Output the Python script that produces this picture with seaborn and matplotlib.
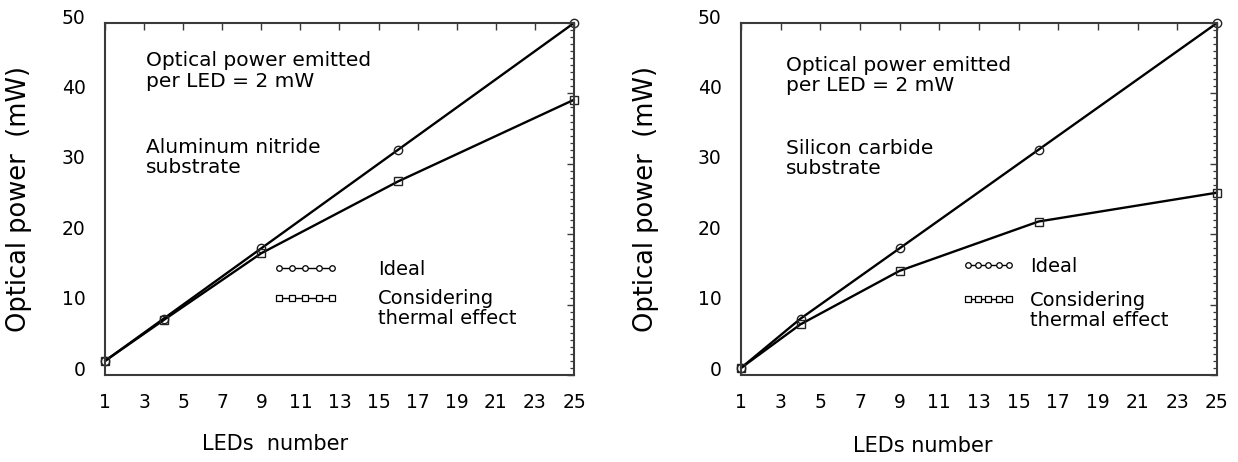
import matplotlib
matplotlib.use('Agg')
import matplotlib.pyplot as plt
import seaborn as sns
import pandas as pd
from matplotlib.lines import Line2D
from matplotlib.transforms import ScaledTranslation
from matplotlib.ticker import MultipleLocator, FixedLocator

# ---- data ----
leds = [1, 4, 9, 16, 25]
aln_ideal = [2, 8, 18, 32, 50]
aln_thermal = [2, 7.8, 17.3, 27.5, 39.1]
sic_ideal = [1, 8, 18, 32, 50]
sic_thermal = [1, 7.2, 14.8, 21.8, 25.9]
x_ticks = list(range(1, 26, 2))
y_ticks = [0, 10, 20, 30, 40, 50]
series = ['Ideal', 'Considering']

sns.set_style('white')
plt.rcParams['font.family'] = ['DejaVu Sans']
plt.rcParams['text.color'] = 'black'
plt.rcParams['axes.labelcolor'] = 'black'
plt.rcParams['xtick.color'] = 'black'
plt.rcParams['ytick.color'] = 'black'

W, H = 1238, 462
fig = plt.figure(figsize=(W / 100, H / 100), dpi=100)
ax1 = fig.add_axes([105 / W, 1 - 375 / H, 469 / W, 352 / H])
ax2 = fig.add_axes([741 / W, 1 - 375 / H, 476 / W, 352 / H])

LEG_FS = 14
panels = [
    dict(ax=ax1, ideal=aln_ideal, thermal=aln_thermal,
         note='Aluminum nitride\nsubstrate', note_y=0.618, head_x=0.087, head_y=0.864,
         ylabel_x=-0.155, xlabel='LEDs  number', xlabel_xy=(0.362, -0.168),
         leg_xy=(0.358, 0.2585), hl=3.35, htp=2.05, ls=0.56, te_xy=(0.582, 0.160)),
    dict(ax=ax2, ideal=sic_ideal, thermal=sic_thermal,
         note='Silicon carbide\nsubstrate', note_y=0.614, head_x=0.0945, head_y=0.851,
         ylabel_x=-0.172, xlabel='LEDs number', xlabel_xy=(0.382, -0.172),
         leg_xy=(0.464, 0.261), hl=2.73, htp=0.77, ls=0.77, te_xy=(0.607, 0.154)),
]

spine_col = '#3a3a3a'
for p in panels:
    ax = p['ax']
    df = pd.DataFrame({
        'LEDs': leds * 2,
        'power': p['ideal'] + p['thermal'],
        'series': [series[0]] * len(leds) + [series[1]] * len(leds),
    })
    sns.lineplot(data=df, x='LEDs', y='power', style='series',
                 markers={'Ideal': 'o', 'Considering': 's'}, dashes=False,
                 color='black', linewidth=1.7, markersize=6,
                 markerfacecolor='none', markeredgecolor='#222222',
                 markeredgewidth=1.0, legend=False, ax=ax)
    for ln in ax.lines:
        ln.set_clip_on(False)

    ax.set_xlim(1, 25)
    ax.set_ylim(0, 50)
    ax.xaxis.set_major_locator(FixedLocator(x_ticks))
    ax.yaxis.set_major_locator(FixedLocator(y_ticks))
    ax.yaxis.set_minor_locator(MultipleLocator(1))
    ax.tick_params(axis='both', which='both', direction='in', top=True, right=True,
                   color=spine_col)
    ax.tick_params(axis='both', which='major', length=5, width=1.0, labelsize=13.5)
    ax.tick_params(axis='y', which='minor', length=3, width=0.9)
    ax.tick_params(axis='x', which='major', pad=13)
    ax.tick_params(axis='y', which='major', pad=14)
    for lab in ax.get_yticklabels():
        lab.set_transform(lab.get_transform() + ScaledTranslation(0, 5 / 72, fig.dpi_scale_trans))
    for s in ax.spines.values():
        s.set_color(spine_col)
        s.set_linewidth(1.5)

    ax.set_ylabel('Optical power  (mW)', fontsize=18.5)
    ax.yaxis.set_label_coords(p['ylabel_x'], 0.5)
    ax.set_xlabel(p['xlabel'], fontsize=15)
    ax.xaxis.set_label_coords(*p['xlabel_xy'])

    ax.text(p['head_x'], p['head_y'], 'Optical power emitted\nper LED = 2 mW',
            transform=ax.transAxes, ha='left', va='center', fontsize=14.5, linespacing=1.1)
    ax.text(p['head_x'], p['note_y'], p['note'],
            transform=ax.transAxes, ha='left', va='center', fontsize=14.5, linespacing=1.05)

    handles = [
        Line2D([], [], color='black', lw=1.0, marker='o', ms=4, mfc='white', mec='black', mew=0.9),
        Line2D([], [], color='black', lw=1.0, marker='s', ms=4, mfc='white', mec='black', mew=0.9),
    ]
    ax.legend(handles, ['Ideal', 'Considering'], loc='center left',
              bbox_to_anchor=p['leg_xy'], frameon=False, numpoints=5,
              borderpad=0, borderaxespad=0, fontsize=LEG_FS,
              handlelength=p['hl'], handletextpad=p['htp'], labelspacing=p['ls'])
    ax.text(p['te_xy'][0], p['te_xy'][1], 'thermal effect', transform=ax.transAxes,
            ha='left', va='center', fontsize=LEG_FS)

fig.savefig('out.png', dpi=100, facecolor='white')
